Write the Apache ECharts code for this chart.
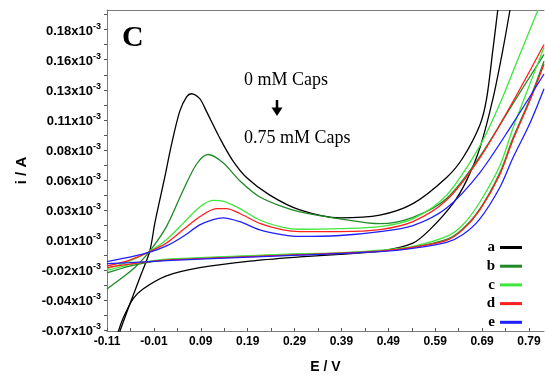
<!DOCTYPE html>
<html>
<head>
<meta charset="utf-8">
<script src="https://cdn.jsdelivr.net/npm/echarts@6/dist/echarts.min.js"></script>
<style>
  html, body { margin: 0; padding: 0; background: #fff; }
  #chart { width: 545px; height: 379px; }
</style>
</head>
<body>
<div id="chart"></div>
<script>
// Cyclic voltammograms: potential E in V, current i in units of 1e-3 A.
// Each curve is stored as its positive-going (anodic) sweep and its return sweep.

const seriesNames = ['a', 'b', 'c', 'd', 'e'];
const seriesColors = ['#000000', '#1f8a26', '#3ee63e', '#ff1f1f', '#1f1fff'];

const aForward = [
  [-0.083, -0.0714], [-0.0616, -0.0487], [-0.0402, -0.0266], [-0.0189, -0.0044],
  [-0.0082, 0.0185], [0.0025, 0.0382], [0.0131, 0.0570], [0.0274, 0.0841],
  [0.0451, 0.1120], [0.0601, 0.1243], [0.0701, 0.1267], [0.0878, 0.1226],
  [0.1021, 0.1120], [0.1305, 0.0898], [0.1582, 0.0710], [0.1875, 0.0570],
  [0.2372, 0.0423], [0.3012, 0.0300], [0.3866, 0.0234], [0.4719, 0.0257],
  [0.5424, 0.0352], [0.6143, 0.0570], [0.6491, 0.0734], [0.6853, 0.1007],
  [0.6996, 0.1226], [0.7131, 0.1636], [0.7234, 0.1964]
];
const aReverse = [
  [0.7494, 0.1964], [0.7344, 0.1636], [0.7131, 0.1226], [0.6853, 0.0816],
  [0.6570, 0.0546], [0.6277, 0.0352], [0.5786, 0.0136], [0.5424, 0.0024],
  [0.4719, -0.0044], [0.3866, -0.0069], [0.3012, -0.0091], [0.1945, -0.0126],
  [0.0878, -0.0181], [0.0168, -0.0249], [-0.0332, -0.0358], [-0.0545, -0.0440],
  [-0.0759, -0.0604], [-0.0869, -0.0725]
];

const bForward = [
  [-0.11, -0.0358], [-0.0722, -0.0249], [-0.0473, -0.0167], [-0.0189, -0.0044],
  [0.0168, 0.0161], [0.0522, 0.0461], [0.0808, 0.0680], [0.1055, 0.0761],
  [0.1375, 0.0693], [0.1732, 0.0543], [0.2159, 0.0407], [0.2656, 0.0325],
  [0.3012, 0.0284], [0.3866, 0.0226], [0.4719, 0.0185], [0.5424, 0.0238],
  [0.6143, 0.0395], [0.6853, 0.0745], [0.7558, 0.1185], [0.822, 0.1595]
];
const bReverse = [
  [0.822, 0.1538], [0.792, 0.1226], [0.7558, 0.0898], [0.728, 0.0611],
  [0.6853, 0.0308], [0.6491, 0.0144], [0.6143, 0.0054], [0.5424, -0.0011],
  [0.4719, -0.0044], [0.3866, -0.0061], [0.3012, -0.0069], [0.1945, -0.0085],
  [0.0878, -0.0102], [0.0168, -0.0118], [-0.0189, -0.0134], [-0.0616, -0.0167],
  [-0.11, -0.0225]
];

const cForward = [
  [-0.11, -0.0188], [-0.0616, -0.0126], [-0.0189, -0.0044], [0.0168, 0.0052],
  [0.0522, 0.0188], [0.0878, 0.0325], [0.1162, 0.0380], [0.1375, 0.0374],
  [0.1732, 0.0311], [0.2159, 0.0216], [0.2656, 0.0155], [0.3012, 0.0139],
  [0.3866, 0.0144], [0.4719, 0.0161], [0.5424, 0.0226], [0.6143, 0.0423],
  [0.6853, 0.0833], [0.728, 0.1185], [0.7707, 0.1595], [0.8091, 0.1964]
];
const cReverse = [
  [0.822, 0.1652], [0.792, 0.1349], [0.7558, 0.0980], [0.728, 0.0669],
  [0.6853, 0.0366], [0.6491, 0.0177], [0.6143, 0.0079], [0.5424, -0.0003],
  [0.4719, -0.0036], [0.3866, -0.0057], [0.3012, -0.0065], [0.1945, -0.0081],
  [0.0878, -0.0098], [0.0168, -0.0110], [-0.0189, -0.0126], [-0.0616, -0.0155],
  [-0.11, -0.0204]
];

const dForward = [
  [-0.11, -0.0167], [-0.0616, -0.0118], [-0.0189, -0.0048], [0.0168, 0.0024],
  [0.0522, 0.0134], [0.0878, 0.0243], [0.1235, 0.0311], [0.1448, 0.0311],
  [0.1732, 0.0270], [0.2159, 0.0188], [0.2656, 0.0134], [0.3012, 0.0120],
  [0.3866, 0.0120], [0.4719, 0.0136], [0.5424, 0.0202], [0.6143, 0.0382],
  [0.6853, 0.0734], [0.7558, 0.1202], [0.822, 0.1677]
];
const dReverse = [
  [0.822, 0.1513], [0.792, 0.1210], [0.7558, 0.0882], [0.728, 0.0595],
  [0.6853, 0.0300], [0.6491, 0.0136], [0.6143, 0.0046], [0.5424, -0.0011],
  [0.4719, -0.0044], [0.3012, -0.0073], [0.1945, -0.0089], [0.0878, -0.0106],
  [0.0168, -0.0118], [-0.0189, -0.0130], [-0.0616, -0.0151], [-0.11, -0.0180]
];

const eForward = [
  [-0.11, -0.0130], [-0.0616, -0.0093], [-0.0189, -0.0052], [0.0168, 0.0000],
  [0.0522, 0.0079], [0.0878, 0.0175], [0.1162, 0.0220], [0.1375, 0.0234],
  [0.1732, 0.0202], [0.2159, 0.0134], [0.2656, 0.0093], [0.3012, 0.0079],
  [0.3866, 0.0087], [0.4719, 0.0120], [0.5424, 0.0169], [0.6143, 0.0316],
  [0.6853, 0.0611], [0.7558, 0.1021], [0.822, 0.1431]
];
const eReverse = [
  [0.822, 0.1308], [0.792, 0.1021], [0.7558, 0.0734], [0.728, 0.0489],
  [0.6853, 0.0226], [0.6491, 0.0095], [0.6143, 0.0030], [0.5424, -0.0020],
  [0.4719, -0.0048], [0.3012, -0.0077], [0.1945, -0.0093], [0.0878, -0.0110],
  [0.0168, -0.0122], [-0.0189, -0.0130], [-0.0616, -0.0139], [-0.11, -0.0147]
];

const sweeps = [
  [aForward, aReverse], [bForward, bReverse], [cForward, cReverse],
  [dForward, dReverse], [eForward, eReverse]
];

// Axis ticks and their printed labels
const xTickValues = [-0.11, -0.01, 0.09, 0.19, 0.29, 0.39, 0.49, 0.59, 0.69, 0.79];
const xTickLabels = ['-0.11', '-0.01', '0.09', '0.19', '0.29', '0.39', '0.49', '0.59', '0.69', '0.79'];
const xMinorTicks = [-0.06, 0.04, 0.14, 0.24, 0.34, 0.44, 0.54, 0.64, 0.74];

const yTickValues = [-0.07, -0.045, -0.02, 0.005, 0.03, 0.055, 0.08, 0.105, 0.13, 0.155, 0.18];
const yTickLabels = ['-0.07', '-0.04', '-0.02', '0.01', '0.03', '0.06', '0.08', '0.11', '0.13', '0.16', '0.18'];
const yMinorTicks = [-0.0575, -0.0325, -0.0075, 0.0175, 0.0425, 0.0675, 0.0925, 0.1175, 0.1425, 0.1675, 0.1925];

function labelFor(values, labels, v) {
  let best = 0;
  for (let k = 1; k < values.length; k++) {
    if (Math.abs(values[k] - v) < Math.abs(values[best] - v)) best = k;
  }
  return labels[best];
}

const axisColor = '#7a7a7a';
const sansBold = { fontFamily: 'Liberation Sans', fontWeight: 'bold', color: '#000' };

const series = [];
sweeps.forEach((pair, k) => {
  pair.forEach(data => {
    series.push({
      type: 'line',
      name: seriesNames[k],
      data: data,
      symbol: 'none',
      smooth: 0.3,
      clip: true,
      lineStyle: { color: seriesColors[k], width: 1.3 },
      itemStyle: { color: seriesColors[k] },
      emphasis: { disabled: true },
      silent: true
    });
  });
});

const chart = echarts.init(document.getElementById('chart'), null, { renderer: 'canvas' });
chart.setOption({
  animation: false,
  backgroundColor: '#fff',
  grid: { left: 107, right: 1, top: 10, bottom: 43 },
  legend: {
    data: seriesNames.map(n => ({ name: n, icon: 'rect' })),
    orient: 'vertical',
    align: 'right',
    right: 18,
    top: 235,
    itemWidth: 22,
    itemHeight: 3,
    itemGap: 3.7,
    selectedMode: false,
    textStyle: { fontFamily: 'Liberation Serif', fontWeight: 'bold', fontSize: 15, lineHeight: 14, color: '#000' }
  },
  xAxis: [{
    type: 'value',
    min: -0.11,
    max: 0.822,
    axisLine: { show: true, onZero: false, lineStyle: { color: axisColor, width: 1 } },
    axisTick: { show: true, inside: true, length: 3, customValues: xTickValues.concat(xMinorTicks),
      lineStyle: { color: '#555' } },
    axisLabel: {
      customValues: xTickValues,
      formatter: v => labelFor(xTickValues, xTickLabels, v),
      margin: 5,
      fontSize: 12,
      ...sansBold
    },
    splitLine: { show: false },
    name: 'E / V',
    nameLocation: 'middle',
    nameGap: 29,
    nameTextStyle: { fontSize: 14, ...sansBold }
  }, {
    type: 'value',
    position: 'top',
    min: -0.11,
    max: 0.822,
    axisLine: { show: true, onZero: false, lineStyle: { color: axisColor, width: 1 } },
    axisTick: { show: false },
    axisLabel: { show: false },
    splitLine: { show: false }
  }],
  yAxis: {
    type: 'value',
    min: -0.0708,
    max: 0.1964,
    axisLine: { show: true, onZero: false, lineStyle: { color: axisColor, width: 1 } },
    axisTick: { show: true, inside: false, length: 3, customValues: yTickValues.concat(yMinorTicks),
      lineStyle: { color: '#555' } },
    axisLabel: {
      customValues: yTickValues,
      margin: 6,
      formatter: v => '{m|' + labelFor(yTickValues, yTickLabels, v) + 'x10}{s|-3}',
      rich: {
        m: { fontSize: 13, lineHeight: 16, verticalAlign: 'bottom', ...sansBold },
        s: { fontSize: 9, lineHeight: 9, verticalAlign: 'top', ...sansBold }
      }
    },
    splitLine: { show: false },
    name: 'i / A',
    nameLocation: 'middle',
    nameGap: 78,
    nameRotate: 90,
    nameTextStyle: { fontSize: 15, ...sansBold }
  },
  graphic: [
    { type: 'text', left: 122, top: 23, style: { text: 'C', font: 'bold 30px "Liberation Serif"', fill: '#000' } },
    { type: 'text', left: 244, top: 71, style: { text: '0 mM Caps', font: '18px "Liberation Serif"', fill: '#000' } },
    { type: 'line', shape: { x1: 277, y1: 100, x2: 277, y2: 110 }, style: { stroke: '#000', lineWidth: 2.5 } },
    { type: 'polygon', shape: { points: [[271.5, 107.5], [282.5, 107.5], [277, 116]] }, style: { fill: '#000' } },
    { type: 'text', left: 244, top: 129, style: { text: '0.75 mM Caps', font: '18px "Liberation Serif"', fill: '#000' } }
  ],
  series: series
});
</script>
</body>
</html>
